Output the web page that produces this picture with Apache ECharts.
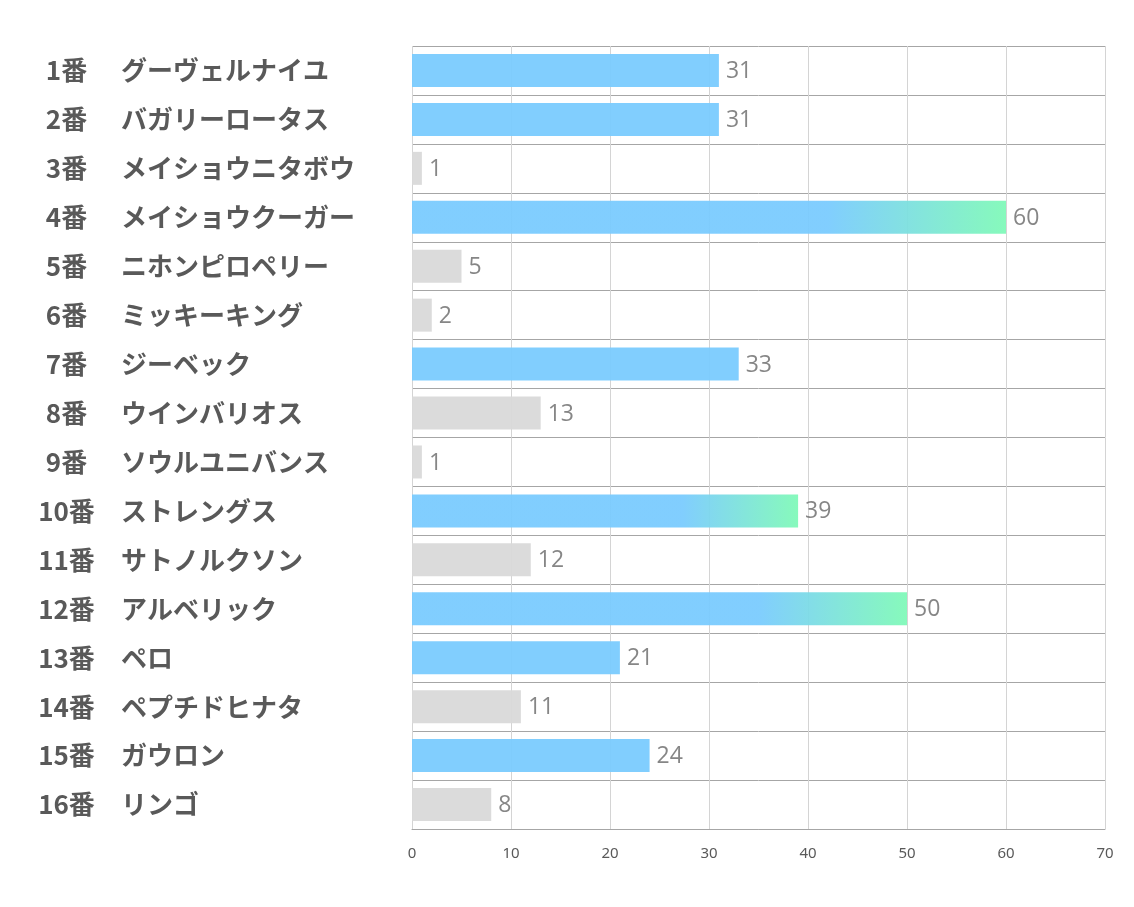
<!DOCTYPE html>
<html>
<head>
<meta charset="utf-8">
<script src="https://cdn.jsdelivr.net/npm/echarts@6/dist/echarts.min.js"></script>
<style>html,body{margin:0;padding:0;background:#fff;}#c{width:1134px;height:907px;}</style>
</head>
<body>
<div id="c"></div>
<script>
const numbers = ['1番','2番','3番','4番','5番','6番','7番','8番','9番','10番','11番','12番','13番','14番','15番','16番'];
const names = ['グーヴェルナイユ','バガリーロータス','メイショウニタボウ','メイショウクーガー','ニホンピロペリー','ミッキーキング','ジーベック','ウインバリオス','ソウルユニバンス','ストレングス','サトノルクソン','アルベリック','ペロ','ペプチドヒナタ','ガウロン','リンゴ'];
const values = [31,31,1,60,5,2,33,13,1,39,12,50,21,11,24,8];
const xTicks = [0,10,20,30,40,50,60,70];

const categories = numbers.map((n,i) => n + '|' + names[i]);
const BLUE = '#7ACBFE', GREEN = '#80F9B8', GRAY = '#D9D9D9';

function colorFor(v){
  if (v >= 35) {
    return new echarts.graphic.LinearGradient(0,0,1,0,[
      {offset:0,color:BLUE},{offset:0.7,color:BLUE},{offset:1,color:GREEN}
    ]);
  }
  return v >= 20 ? BLUE : GRAY;
}

const chart = echarts.init(document.getElementById('c'), null, {renderer:'canvas'});
chart.setOption({
  animation:false,
  grid:{left:412, right:29, top:46, bottom:78, containLabel:false},
  xAxis:{
    type:'value', min:xTicks[0], max:xTicks[xTicks.length-1], interval:10,
    axisLine:{show:true, lineStyle:{color:'#A6A6A6', width:1}},
    axisTick:{show:false},
    axisLabel:{color:'#595959', fontSize:15, margin:17, fontFamily:'Noto Sans'},
    splitLine:{show:true, lineStyle:{color:'#D4D4D4', width:1}}
  },
  yAxis:{
    type:'category', data:categories, inverse:true,
    axisLine:{show:false}, axisTick:{show:false},
    splitLine:{show:true, lineStyle:{color:'#A6A6A6', width:1}},
    axisLabel:{
      align:'left', margin:372,
      formatter: v => { const p = v.split('|'); return '{n|' + p[0] + '}{s|' + p[1] + '}'; },
      rich:{
        n:{width:53, align:'right', fontSize:26, fontWeight:'bold', color:'#595959', fontFamily:'Noto Sans CJK JP'},
        s:{padding:[0,0,0,28], fontSize:26, fontWeight:'bold', color:'#595959', fontFamily:'Noto Sans CJK JP'}
      }
    }
  },
  series:[{
    type:'bar', barWidth:33,
    data: values.map(v => ({value:v, itemStyle:{color:colorFor(v)}})),
    itemStyle:{opacity:0.95},
    label:{show:true, position:'right', distance:7, color:'#7F7F7F', fontSize:23, fontFamily:'Open Sans', offset:[0,1]}
  }]
});
</script>
</body>
</html>
